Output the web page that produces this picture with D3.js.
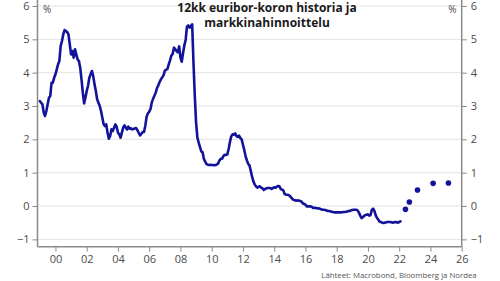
<!DOCTYPE html>
<html><head><meta charset="utf-8">
<script src="https://cdn.jsdelivr.net/npm/d3@7"></script>
<style>body{margin:0;background:#fff}svg{display:block}</style>
</head><body>
<script>
// 12-month Euribor, monthly values, starting January 1999
const startYear = 1999;
const euribor = [
 3.15,3.10,3.05,2.80,2.70,2.85,3.05,3.25,3.30,3.70,3.70,3.85,
 3.95,4.10,4.25,4.35,4.80,4.95,5.15,5.28,5.25,5.22,5.15,4.85,
 4.55,4.65,4.45,4.70,4.55,4.40,4.35,4.15,3.80,3.40,3.08,3.25,
 3.45,3.60,3.85,3.95,4.05,3.90,3.65,3.45,3.20,3.10,3.00,2.85,
 2.65,2.45,2.40,2.45,2.20,2.02,2.10,2.30,2.25,2.35,2.45,2.38,
 2.20,2.15,2.05,2.20,2.35,2.42,2.35,2.30,2.38,2.32,2.33,2.30,
 2.31,2.33,2.34,2.27,2.19,2.12,2.17,2.22,2.22,2.41,2.68,2.78,
 2.83,2.91,3.11,3.22,3.31,3.40,3.54,3.62,3.72,3.80,3.86,3.92,
 4.06,4.09,4.11,4.25,4.37,4.51,4.56,4.75,4.70,4.65,4.61,4.79,
 4.45,4.33,4.59,4.82,4.99,5.38,5.42,5.35,5.40,5.45,4.30,3.30,
 2.50,2.05,1.90,1.77,1.64,1.61,1.41,1.33,1.26,1.24,1.23,1.24,
 1.23,1.23,1.22,1.23,1.25,1.28,1.37,1.42,1.42,1.50,1.54,1.53,
 1.55,1.71,1.92,2.09,2.15,2.14,2.18,2.10,2.07,2.11,2.04,2.00,
 1.84,1.68,1.50,1.37,1.27,1.22,1.06,0.88,0.74,0.65,0.59,0.55,
 0.58,0.59,0.55,0.53,0.48,0.51,0.53,0.54,0.54,0.54,0.51,0.54,
 0.56,0.55,0.58,0.60,0.59,0.51,0.49,0.47,0.36,0.34,0.34,0.33,
 0.30,0.26,0.21,0.18,0.17,0.16,0.17,0.16,0.15,0.13,0.08,0.06,
 0.04,-0.01,-0.01,-0.01,-0.01,-0.03,-0.06,-0.05,-0.06,-0.07,-0.07,-0.08,
 -0.10,-0.11,-0.11,-0.12,-0.13,-0.15,-0.15,-0.16,-0.17,-0.18,-0.19,-0.19,
 -0.19,-0.19,-0.19,-0.19,-0.19,-0.18,-0.18,-0.17,-0.17,-0.15,-0.15,-0.13,
 -0.12,-0.11,-0.11,-0.11,-0.13,-0.19,-0.28,-0.36,-0.34,-0.30,-0.27,-0.26,
 -0.25,-0.29,-0.27,-0.11,-0.08,-0.15,-0.28,-0.36,-0.41,-0.47,-0.48,-0.50,
 -0.51,-0.50,-0.49,-0.48,-0.48,-0.48,-0.49,-0.50,-0.49,-0.48,-0.49,-0.50,
 -0.48,-0.46
];
// Market pricing (decimal year, %)
const forecastDates = [2022.4, 2022.65, 2023.17, 2024.17, 2025.15];
const forecastValues = [-0.10, 0.12, 0.48, 0.68, 0.69];
const xTicks = [2000,2002,2004,2006,2008,2010,2012,2014,2016,2018,2020,2022,2024,2026];
const yTicks = [-1,0,1,2,3,4,5,6];
const titleLines = ["12kk euribor-koron historia ja", "markkinahinnoittelu"];
const sourceText = "Lähteet: Macrobond, Bloomberg ja Nordea";

const W = 500, H = 281;
const L = 37.5, R = 461.7, T = 0, B = 246.7;
const font = "'Open Sans', 'Noto Sans', sans-serif";
const lineColor = "#12129a";
const textColor = "#4a4a4a";

const svg = d3.select("body").append("svg").attr("width", W).attr("height", H);
const x = d3.scaleLinear().domain([1998.85, 2026]).range([L, R]);
const y = d3.scaleLinear().domain([-1.22, 6.18]).range([B, T]);

// gridlines
svg.append("g").selectAll("line").data(yTicks).join("line")
  .attr("x1", L).attr("x2", R)
  .attr("y1", d => y(d)).attr("y2", d => y(d))
  .attr("stroke", "#e4e4e4").attr("stroke-width", 1);

// axes
const axL = svg.append("g").attr("transform", `translate(${L},0)`)
  .call(d3.axisLeft(y).tickValues(yTicks).tickSize(5).tickPadding(3).tickFormat(d3.format("d")));
const axR = svg.append("g").attr("transform", `translate(${R},0)`)
  .call(d3.axisRight(y).tickValues(yTicks).tickSize(5).tickPadding(4).tickFormat(d3.format("d")));
const axB = svg.append("g").attr("transform", `translate(0,${B})`)
  .call(d3.axisBottom(x).tickValues(xTicks).tickSize(5).tickPadding(4)
    .tickFormat(d => String(d % 100).padStart(2, "0")));
[axL, axR, axB].forEach(g => {
  g.select(".domain").attr("stroke", "#8a8a8a").attr("stroke-width", 1.5);
  g.selectAll(".tick line").attr("stroke", "#8a8a8a").attr("stroke-width", 1);
  g.selectAll(".tick text").attr("fill", textColor).attr("font-family", font).attr("font-size", 11);
});
axL.select(".domain").attr("d", `M0,${T}V${B}`);
axR.select(".domain").attr("d", `M0,${T}V${B}`);
axB.select(".domain").attr("d", `M${L},0H${R}`);

// history line
const hist = euribor.map((v, i) => ({ t: startYear + i / 12, v }));
svg.append("path").datum(hist)
  .attr("fill", "none").attr("stroke", lineColor).attr("stroke-width", 2.6)
  .attr("stroke-linejoin", "round").attr("stroke-linecap", "round")
  .attr("d", d3.line().x(d => x(d.t)).y(d => y(d.v)));

// market pricing dots
svg.append("g").selectAll("circle").data(forecastDates.map((t, i) => ({ t, v: forecastValues[i] })))
  .join("circle").attr("cx", d => x(d.t)).attr("cy", d => y(d.v)).attr("r", 2.8).attr("fill", lineColor);

// % labels
svg.append("text").attr("x", 43).attr("y", 13).text("%")
  .attr("font-family", font).attr("font-size", 10).attr("fill", textColor);
svg.append("text").attr("x", 456.5).attr("y", 13).attr("text-anchor", "end").text("%")
  .attr("font-family", font).attr("font-size", 10).attr("fill", textColor);

// title
svg.append("g").selectAll("text").data(titleLines).join("text")
  .attr("x", 267).attr("y", (d, i) => 11.5 + i * 15).attr("text-anchor", "middle")
  .attr("font-family", font).attr("font-weight", "bold").attr("font-size", 12)
  .attr("fill", "#1a1a1a").text(d => d);

// source
svg.append("text").attr("x", 476.7).attr("y", 278).attr("text-anchor", "end")
  .attr("font-family", font).attr("font-size", 7.8).attr("fill", "#555").text(sourceText);
</script>
</body></html>
